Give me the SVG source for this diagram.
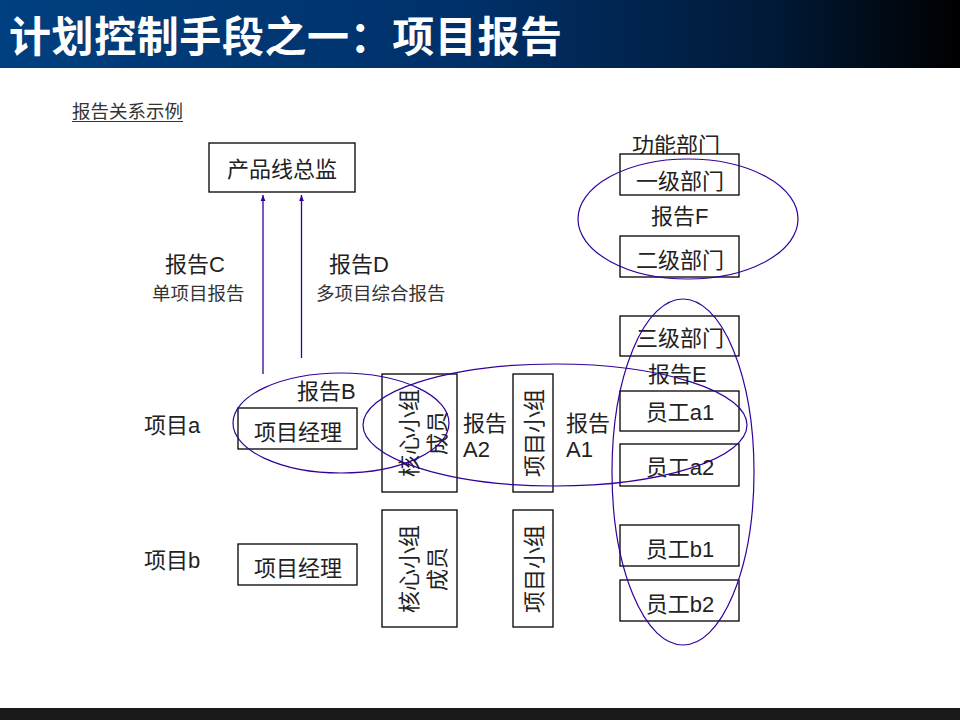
<svg xmlns="http://www.w3.org/2000/svg" width="960" height="720" viewBox="0 0 960 720">
  <defs>
    <linearGradient id="hdr" x1="0" y1="0" x2="1" y2="0">
      <stop offset="0" stop-color="#004080"/>
      <stop offset="0.5" stop-color="#003068"/>
      <stop offset="0.8" stop-color="#001a38"/>
      <stop offset="1" stop-color="#000000"/>
    </linearGradient>
    <marker id="arr" viewBox="0 0 10 10" refX="10" refY="5" markerWidth="6" markerHeight="10" markerUnits="userSpaceOnUse" orient="auto">
      <path d="M0,1 L10,5 L0,9 Z" fill="#330099"/>
    </marker>
    <style>
      .box { fill: #ffffff; stroke: #000000; stroke-width: 1.3; }
      .t { font-family: "Liberation Sans", "Noto Sans CJK SC", sans-serif; font-size: 22px; fill: #222222; }
      .c { text-anchor: middle; }
      .s { font-family: "Liberation Sans", "Noto Sans CJK SC", sans-serif; font-size: 18.5px; fill: #333333; }
      .v { text-anchor: middle; dominant-baseline: central; }
      .ell { fill: none; stroke: #330099; stroke-width: 1.2; }
      .conn { stroke: #330099; stroke-width: 1.3; fill: none; }
    </style>
  </defs>

  <rect x="0" y="0" width="960" height="68" fill="url(#hdr)"/>
  <text x="9" y="52" font-family="'Noto Sans CJK SC', sans-serif" font-weight="bold" font-size="42" fill="#ffffff" textLength="553">计划控制手段之一：项目报告</text>
  <rect x="0" y="708" width="960" height="12" fill="#1a1a1a"/>

  <text class="s" x="72" y="118">报告关系示例</text>
  <line x1="72" y1="121.5" x2="183" y2="121.5" stroke="#333333" stroke-width="1"/>

  <g id="director">
    <rect class="box" x="209" y="143" width="146" height="49"/>
    <text class="t c" x="282" y="177">产品线总监</text>
  </g>

  <g id="labels">
    <text class="t" x="165" y="272">报告C</text>
    <text class="s" x="152" y="300">单项目报告</text>
    <text class="t" x="329" y="272">报告D</text>
    <text class="s" x="316" y="300">多项目综合报告</text>
    <text class="t" x="632" y="153">功能部门</text>
    <text class="t" x="651" y="224">报告F</text>
    <text class="t" x="648" y="382">报告E</text>
    <text class="t" x="297" y="399">报告B</text>
    <text class="t" x="144" y="433">项目a</text>
    <text class="t" x="144" y="568">项目b</text>
    <text class="t" x="463" y="431">报告</text>
    <text class="t" x="463" y="457">A2</text>
    <text class="t" x="566" y="431">报告</text>
    <text class="t" x="566" y="457">A1</text>
  </g>

  <g id="dept1">
    <rect class="box" x="620" y="154" width="119" height="41"/>
    <text class="t c" x="680" y="189">一级部门</text>
  </g>
  <g id="dept2">
    <rect class="box" x="620" y="236" width="119" height="41"/>
    <text class="t c" x="680" y="268">二级部门</text>
  </g>
  <g id="dept3">
    <rect class="box" x="620" y="316" width="119" height="40"/>
    <text class="t c" x="680" y="346">三级部门</text>
  </g>

  <g id="pm-a">
    <rect class="box" x="238" y="408" width="119" height="41"/>
    <text class="t c" x="298" y="440">项目经理</text>
  </g>
  <g id="core-a">
    <rect class="box" x="382" y="374" width="75" height="118"/>
    <text class="t v" transform="translate(409,433) rotate(-90)">核心小组</text>
    <text class="t v" transform="translate(437,433) rotate(-90)">成员</text>
  </g>
  <g id="team-a">
    <rect class="box" x="513" y="374" width="40" height="118"/>
    <text class="t v" transform="translate(534,433) rotate(-90)">项目小组</text>
  </g>
  <g id="staff-a1">
    <rect class="box" x="620" y="391" width="119" height="40"/>
    <text class="t c" x="680" y="420">员工a1</text>
  </g>
  <g id="staff-a2">
    <rect class="box" x="620" y="444" width="119" height="42"/>
    <text class="t c" x="680" y="475">员工a2</text>
  </g>

  <g id="pm-b">
    <rect class="box" x="238" y="544" width="119" height="41"/>
    <text class="t c" x="298" y="576">项目经理</text>
  </g>
  <g id="core-b">
    <rect class="box" x="382" y="510" width="75" height="117"/>
    <text class="t v" transform="translate(409,569) rotate(-90)">核心小组</text>
    <text class="t v" transform="translate(437,569) rotate(-90)">成员</text>
  </g>
  <g id="team-b">
    <rect class="box" x="513" y="510" width="40" height="117"/>
    <text class="t v" transform="translate(534,569) rotate(-90)">项目小组</text>
  </g>
  <g id="staff-b1">
    <rect class="box" x="620" y="525" width="119" height="41"/>
    <text class="t c" x="680" y="557">员工b1</text>
  </g>
  <g id="staff-b2">
    <rect class="box" x="620" y="580" width="119" height="41"/>
    <text class="t c" x="680" y="612">员工b2</text>
  </g>

  <g id="groupings">
    <ellipse class="ell" cx="688" cy="219" rx="110" ry="60"/>
    <ellipse class="ell" cx="683" cy="472" rx="71" ry="173"/>
    <ellipse class="ell" cx="341" cy="423" rx="108" ry="50"/>
    <ellipse class="ell" cx="555" cy="425" rx="192" ry="61"/>
  </g>

  <g id="connectors">
    <line class="conn" x1="263" y1="374" x2="263" y2="195" marker-end="url(#arr)"/>
    <line class="conn" x1="301.5" y1="358" x2="301.5" y2="195" marker-end="url(#arr)"/>
  </g>
</svg>
